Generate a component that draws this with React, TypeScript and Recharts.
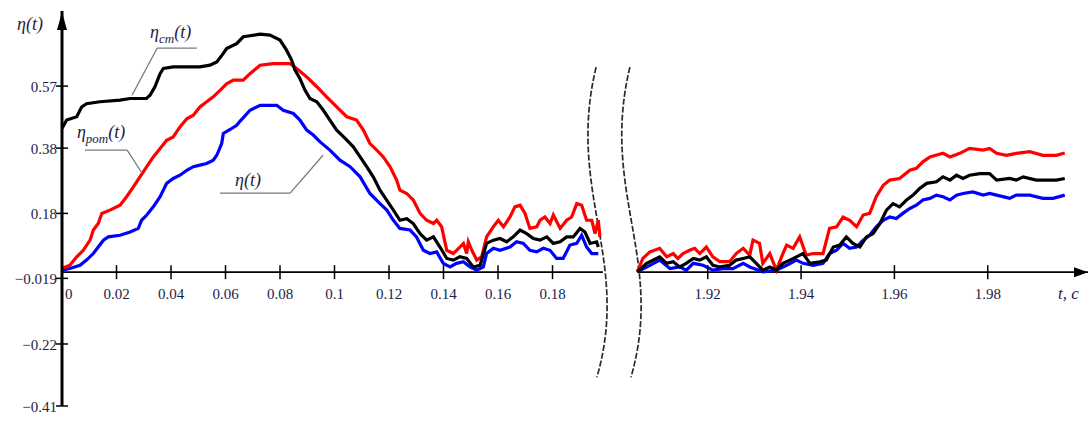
import { LineChart, Line, XAxis, YAxis, ReferenceLine, ReferenceDot } from 'recharts'

// values, as [t, value]
const etaStLeft: [number, number][] = [
  [0, 0.44], [0.0017, 0.466], [0.0054, 0.476], [0.0072, 0.506], [0.009, 0.516], [0.0139, 0.522],
  [0.0213, 0.527], [0.025, 0.532], [0.031, 0.532], [0.0323, 0.542], [0.0341, 0.568], [0.036, 0.608],
  [0.0372, 0.624], [0.0408, 0.629], [0.047, 0.629], [0.0506, 0.629], [0.0543, 0.634], [0.0568, 0.644],
  [0.0592, 0.67], [0.0604, 0.685], [0.0641, 0.7], [0.0665, 0.721], [0.0727, 0.729], [0.0763, 0.726],
  [0.08, 0.711], [0.0824, 0.68], [0.0843, 0.649], [0.0855, 0.619], [0.0873, 0.593], [0.0892, 0.557],
  [0.091, 0.532], [0.0935, 0.522], [0.0959, 0.496], [0.0983, 0.466], [0.1008, 0.435], [0.1039, 0.41],
  [0.1069, 0.384], [0.1094, 0.353], [0.1118, 0.323], [0.1142, 0.292], [0.1167, 0.251], [0.1192, 0.22],
  [0.1216, 0.19], [0.124, 0.159], [0.1265, 0.164], [0.1289, 0.149], [0.1314, 0.118], [0.1338, 0.098],
  [0.1363, 0.108], [0.1387, 0.077], [0.1412, 0.042], [0.1436, 0.037], [0.146, 0.047], [0.1485, 0.042],
  [0.1509, 0.016], [0.1534, 0.021], [0.1558, 0.088], [0.1583, 0.098], [0.1607, 0.103], [0.1632, 0.093],
  [0.1656, 0.108], [0.1681, 0.129], [0.1705, 0.118], [0.173, 0.103], [0.1754, 0.098], [0.1779, 0.108],
  [0.1803, 0.088], [0.1828, 0.093], [0.1852, 0.108], [0.1876, 0.108], [0.1901, 0.134], [0.1919, 0.123],
  [0.1938, 0.088], [0.1962, 0.093], [0.1968, 0.077],
]
const etaStRight: [number, number][] = [
  [1.9049, 0.001], [1.9069, 0.027], [1.9097, 0.047], [1.9112, 0.027], [1.9126, 0.032], [1.914, 0.016],
  [1.9154, 0.027], [1.9169, 0.042], [1.9183, 0.037], [1.9197, 0.047], [1.9211, 0.021], [1.9226, 0.016],
  [1.9247, 0.021], [1.9261, 0.037], [1.9276, 0.042], [1.929, 0.047], [1.9304, 0.027], [1.9318, 0.006],
  [1.9333, 0.016], [1.9347, 0.006], [1.9361, 0.027], [1.9376, 0.037], [1.939, 0.047], [1.9404, 0.057],
  [1.9419, 0.027], [1.944, 0.032], [1.9454, 0.037], [1.9469, 0.077], [1.9483, 0.083], [1.9497, 0.108],
  [1.9511, 0.088], [1.9526, 0.077], [1.954, 0.108], [1.9554, 0.118], [1.9569, 0.149], [1.9583, 0.19],
  [1.9597, 0.21], [1.9611, 0.2], [1.9626, 0.221], [1.964, 0.236], [1.9654, 0.256], [1.9669, 0.272],
  [1.969, 0.277], [1.9704, 0.292], [1.9719, 0.282], [1.9733, 0.297], [1.9747, 0.287], [1.9761, 0.297],
  [1.9783, 0.302], [1.9804, 0.302], [1.9819, 0.282], [1.9847, 0.287], [1.9861, 0.282], [1.9876, 0.292],
  [1.9904, 0.282], [1.9933, 0.282], [1.9947, 0.282], [1.9965, 0.287],
]

const etaRotLeft: [number, number][] = [
  [0, 0.011], [0.0029, 0.021], [0.0054, 0.047], [0.0078, 0.067], [0.0103, 0.098], [0.0115, 0.129],
  [0.0133, 0.149], [0.0146, 0.18], [0.0176, 0.19], [0.0213, 0.205], [0.0237, 0.231], [0.0262, 0.261],
  [0.0286, 0.292], [0.0311, 0.323], [0.0335, 0.353], [0.036, 0.379], [0.0384, 0.404], [0.0408, 0.414],
  [0.0433, 0.445], [0.0458, 0.47], [0.0482, 0.481], [0.0506, 0.506], [0.0531, 0.522], [0.0555, 0.537],
  [0.058, 0.557], [0.0604, 0.577], [0.0629, 0.588], [0.0665, 0.588], [0.069, 0.608], [0.0727, 0.634],
  [0.0775, 0.639], [0.0837, 0.639], [0.0861, 0.624], [0.0898, 0.598], [0.0935, 0.568], [0.0971, 0.537],
  [0.0996, 0.516], [0.102, 0.496], [0.1045, 0.476], [0.1081, 0.466], [0.1106, 0.435], [0.113, 0.394],
  [0.1155, 0.374], [0.1179, 0.353], [0.1204, 0.323], [0.1228, 0.282], [0.124, 0.251], [0.1265, 0.241],
  [0.1289, 0.221], [0.1314, 0.18], [0.1338, 0.159], [0.1363, 0.149], [0.1375, 0.159], [0.1393, 0.139],
  [0.1412, 0.067], [0.1436, 0.057], [0.146, 0.077], [0.1473, 0.088], [0.1485, 0.057], [0.1491, 0.093],
  [0.1504, 0.067], [0.1522, 0.037], [0.154, 0.047], [0.1558, 0.108], [0.1583, 0.139], [0.1601, 0.159],
  [0.162, 0.139], [0.1644, 0.169], [0.1662, 0.2], [0.1681, 0.205], [0.1699, 0.18], [0.1717, 0.134],
  [0.1742, 0.139], [0.1754, 0.159], [0.1772, 0.169], [0.1791, 0.149], [0.1803, 0.175], [0.1828, 0.134],
  [0.1852, 0.159], [0.187, 0.169], [0.1889, 0.21], [0.1907, 0.205], [0.1925, 0.159], [0.1944, 0.159],
  [0.1956, 0.118], [0.1968, 0.159], [0.1974, 0.108],
]
const etaRotRight: [number, number][] = [
  [1.9049, 0.001], [1.9061, 0.042], [1.9076, 0.062], [1.9097, 0.073], [1.9112, 0.047], [1.9126, 0.057],
  [1.9136, 0.042], [1.9147, 0.057], [1.9161, 0.067], [1.9172, 0.073], [1.9183, 0.057], [1.9197, 0.077],
  [1.9211, 0.047], [1.9226, 0.032], [1.9247, 0.032], [1.9261, 0.057], [1.9276, 0.073], [1.929, 0.052],
  [1.9297, 0.098], [1.9311, 0.088], [1.9318, 0.027], [1.9333, 0.057], [1.9347, 0.006], [1.9361, 0.057],
  [1.9369, 0.083], [1.9383, 0.073], [1.9397, 0.108], [1.9411, 0.052], [1.9426, 0.057], [1.9447, 0.057],
  [1.9461, 0.134], [1.9476, 0.139], [1.949, 0.169], [1.9504, 0.159], [1.9519, 0.139], [1.9533, 0.175],
  [1.9547, 0.18], [1.9561, 0.231], [1.9576, 0.266], [1.959, 0.282], [1.9611, 0.287], [1.9633, 0.312],
  [1.9647, 0.318], [1.9661, 0.338], [1.9676, 0.353], [1.9704, 0.364], [1.9719, 0.353], [1.974, 0.364],
  [1.9761, 0.379], [1.979, 0.374], [1.9804, 0.379], [1.9819, 0.364], [1.984, 0.358], [1.9861, 0.364],
  [1.989, 0.369], [1.9918, 0.358], [1.9947, 0.358], [1.9965, 0.365],
]

const etaLeft: [number, number][] = [
  [0, 0.006], [0.0029, 0.011], [0.0066, 0.021], [0.009, 0.037], [0.0115, 0.057], [0.0133, 0.077],
  [0.0152, 0.098], [0.017, 0.108], [0.0213, 0.113], [0.025, 0.123], [0.028, 0.134], [0.0292, 0.159],
  [0.0311, 0.175], [0.0335, 0.2], [0.036, 0.231], [0.0384, 0.272], [0.0408, 0.287], [0.0433, 0.297],
  [0.0458, 0.312], [0.0482, 0.323], [0.0506, 0.328], [0.0531, 0.333], [0.0555, 0.343], [0.0568, 0.358],
  [0.0586, 0.394], [0.0592, 0.425], [0.0617, 0.437], [0.0641, 0.45], [0.0653, 0.462], [0.069, 0.496],
  [0.0727, 0.511], [0.0788, 0.511], [0.0812, 0.496], [0.0849, 0.486], [0.0873, 0.466], [0.0898, 0.435],
  [0.0922, 0.42], [0.0947, 0.399], [0.0983, 0.374], [0.102, 0.343], [0.1057, 0.323], [0.1094, 0.292],
  [0.113, 0.241], [0.1167, 0.21], [0.1192, 0.19], [0.1216, 0.159], [0.124, 0.134], [0.1277, 0.129],
  [0.1301, 0.108], [0.1326, 0.067], [0.135, 0.057], [0.1375, 0.062], [0.1399, 0.027], [0.1424, 0.016],
  [0.1448, 0.027], [0.1473, 0.032], [0.1497, 0.016], [0.1522, 0.006], [0.1546, 0.016], [0.1558, 0.057],
  [0.1583, 0.073], [0.1607, 0.067], [0.1644, 0.077], [0.1668, 0.093], [0.1693, 0.088], [0.1717, 0.067],
  [0.1742, 0.062], [0.1766, 0.073], [0.1791, 0.067], [0.1815, 0.042], [0.1839, 0.042], [0.1864, 0.083],
  [0.1889, 0.088], [0.1907, 0.113], [0.1925, 0.077], [0.1944, 0.057], [0.1968, 0.057],
]
const etaRight: [number, number][] = [
  [1.9049, 0.001], [1.9076, 0.021], [1.9097, 0.037], [1.9119, 0.011], [1.914, 0.016], [1.9154, 0.006],
  [1.9169, 0.027], [1.919, 0.021], [1.9211, 0.006], [1.9233, 0.011], [1.9254, 0.011], [1.9276, 0.027],
  [1.929, 0.016], [1.9318, 0.001], [1.9347, 0.006], [1.9369, 0.021], [1.939, 0.037], [1.9404, 0.027],
  [1.9426, 0.021], [1.9447, 0.027], [1.9461, 0.057], [1.9476, 0.067], [1.949, 0.088], [1.9504, 0.073],
  [1.9519, 0.077], [1.9533, 0.098], [1.9547, 0.113], [1.9561, 0.139], [1.9576, 0.159], [1.959, 0.169],
  [1.9604, 0.164], [1.9618, 0.18], [1.9633, 0.195], [1.9647, 0.205], [1.9661, 0.221], [1.9676, 0.226],
  [1.969, 0.236], [1.9704, 0.231], [1.9719, 0.221], [1.9733, 0.236], [1.9747, 0.241], [1.9768, 0.246],
  [1.979, 0.236], [1.9804, 0.241], [1.9819, 0.236], [1.9847, 0.226], [1.9861, 0.236], [1.989, 0.236],
  [1.9918, 0.226], [1.994, 0.226], [1.9965, 0.236],
]

const xTicksLeft = [0, 0.02, 0.04, 0.06, 0.08, 0.1, 0.12, 0.14, 0.16, 0.18]
const xTickLabelsLeft = ['0', '0.02', '0.04', '0.06', '0.08', '0.1', '0.12', '0.14', '0.16', '0.18']
const xTicksRight = [1.92, 1.94, 1.96, 1.98]
const xTickLabelsRight = ['1.92', '1.94', '1.96', '1.98']
const yTicks = [0.57, 0.38, 0.18, -0.019, -0.22, -0.41]
const yTickLabels = ['0.57', '0.38', '0.18', '-0.019', '-0.22', '-0.41']

// broken time axis: the tail (t > 1.9) is drawn stretched after a gap
const LEFT_END = 0.1985
const RIGHT_START_U = 0.2111
const RIGHT_START_T = 1.9049
const RIGHT_SCALE = 1.7126
const U_MAX = 0.3765
const GAP_U = 0.205

const toU = (t: number) => (t < 1 ? t : RIGHT_START_U + (t - RIGHT_START_T) * RIGHT_SCALE)

const buildRows = (left: [number, number][], right: [number, number][]) => [
  ...left.map(([t, v]) => ({ u: toU(t), v })),
  { u: GAP_U, v: null },
  ...right.map(([t, v]) => ({ u: toU(t), v })),
]

const FONT = "'Liberation Serif', 'DejaVu Serif', serif"
const TEXT = '#1d1d47'
const tickText = { fontFamily: FONT, fontSize: 15 }
const italicText = { fontFamily: FONT, fontStyle: 'italic' as const, fontSize: 18 }

function YTick(props: any) {
  const { x, y, payload } = props
  const i = yTicks.indexOf(payload.value)
  const label = (yTickLabels[i] ?? String(payload.value)).replace('-', '\u2212')
  return (
    <g>
      <line x1={x - 6} x2={x + 6} y1={y} y2={y} stroke="#000" strokeWidth={1.5} />
      <text x={x - 5} y={y + 6} textAnchor="end" style={tickText} fill={TEXT}>
        {label}
      </text>
    </g>
  )
}

function xTickShape(label: string, first: boolean) {
  return (p: any) => (
    <g>
      <line x1={p.cx} x2={p.cx} y1={p.cy - 7} y2={p.cy + 7} stroke="#000" strokeWidth={1.5} />
      <text
        x={first ? p.cx + 3 : p.cx}
        y={p.cy + 27}
        textAnchor={first ? 'start' : 'middle'}
        style={tickText}
        fill={TEXT}
      >
        {label}
      </text>
    </g>
  )
}

function BreakCurve(p: any) {
  const { x1, y1, x2, y2 } = p
  const h = y2 - y1
  const d = `M${x1},${y1} C${x1 - 30},${y1 + 0.4 * h} ${x2 + 34},${y1 + 0.62 * h} ${x2},${y2}`
  return <path d={d} fill="none" stroke="#2a2a2a" strokeWidth={1.7} strokeDasharray="6 2" />
}

function Label({ cx, cy, sub, dx, dy }: any) {
  return (
    <text x={cx + dx} y={cy + dy} style={italicText} fill={TEXT}>
      <tspan>η</tspan>
      {sub && (
        <tspan dy={5} fontSize={13}>
          {sub}
        </tspan>
      )}
      <tspan dy={sub ? -5 : 0}>(t)</tspan>
    </text>
  )
}

const leader = { stroke: '#7a7a7a', strokeWidth: 1.3 }

export default function App() {
  const stRows = buildRows(etaStLeft, etaStRight)
  const rotRows = buildRows(etaRotLeft, etaRotRight)
  const etaRows = buildRows(etaLeft, etaRight)

  return (
    <div style={{ position: 'absolute', left: 0, top: 0, background: '#fff' }}>
      <LineChart width={1092} height={423} margin={{ top: 11, right: 4, bottom: 17, left: 0 }}>
        <XAxis type="number" dataKey="u" domain={[0, U_MAX]} hide allowDataOverflow />
        <YAxis
          type="number"
          domain={[-0.41, 0.8]}
          ticks={yTicks}
          interval={0}
          width={62}
          allowDataOverflow
          axisLine={{ stroke: '#000', strokeWidth: 3 }}
          tickLine={false}
          tickSize={0}
          tickMargin={0}
          tick={<YTick />}
        />

        {/* x axis drawn at zero, in two pieces */}
        <ReferenceLine segment={[{ x: 0, y: 0 }, { x: LEFT_END, y: 0 }]} stroke="#000" strokeWidth={1.8} />
        <ReferenceLine segment={[{ x: RIGHT_START_U, y: 0 }, { x: U_MAX, y: 0 }]} stroke="#000" strokeWidth={1.8} />
        {xTicksLeft.map((t, i) => (
          <ReferenceDot key={'l' + t} x={toU(t)} y={0} r={0} shape={xTickShape(xTickLabelsLeft[i], i === 0)} />
        ))}
        {xTicksRight.map((t, i) => (
          <ReferenceDot key={'r' + t} x={toU(t)} y={0} r={0} shape={xTickShape(xTickLabelsRight[i], false)} />
        ))}
        <ReferenceDot
          x={U_MAX}
          y={0}
          r={0}
          shape={(p: any) => (
            <g>
              <polygon points={`${p.cx},${p.cy} ${p.cx - 14},${p.cy - 5} ${p.cx - 14},${p.cy + 5}`} fill="#000" />
              <text x={p.cx - 30} y={p.cy + 27} style={{ ...italicText, fontSize: 17 }} fill={TEXT}>
                t, с
              </text>
            </g>
          )}
        />
        <ReferenceDot
          x={0}
          y={0.8}
          r={0}
          shape={(p: any) => (
            <g>
              <polygon points={`${p.cx},${p.cy + 1} ${p.cx - 5},${p.cy + 19} ${p.cx + 5},${p.cy + 19}`} fill="#000" />
              <text x={p.cx - 45} y={p.cy + 19} style={italicText} fill={TEXT}>
                η(t)
              </text>
            </g>
          )}
        />

        {/* axis break marks */}
        <ReferenceLine segment={[{ x: 0.196, y: 0.628 }, { x: 0.1963, y: -0.3216 }]} shape={<BreakCurve />} />
        <ReferenceLine segment={[{ x: 0.2084, y: 0.628 }, { x: 0.2088, y: -0.3216 }]} shape={<BreakCurve />} />

        <Line data={etaRows} dataKey="v" type="linear" stroke="#0000ff" strokeWidth={3.2} dot={false} isAnimationActive={false} />
        <Line data={rotRows} dataKey="v" type="linear" stroke="#ff0000" strokeWidth={3.2} dot={false} isAnimationActive={false} />
        <Line data={stRows} dataKey="v" type="linear" stroke="#000000" strokeWidth={3.2} dot={false} isAnimationActive={false} />

        {/* callouts */}
        <ReferenceLine segment={[{ x: 0.0257, y: 0.542 }, { x: 0.0349, y: 0.686 }]} {...leader} />
        <ReferenceLine segment={[{ x: 0.0349, y: 0.686 }, { x: 0.0495, y: 0.686 }]} {...leader} />
        <ReferenceDot x={0.0349} y={0.686} r={0} shape={(p: any) => <Label {...p} sub="ст" dx={-7} dy={-10} />} />

        <ReferenceLine segment={[{ x: 0.0084, y: 0.374 }, { x: 0.0239, y: 0.374 }]} {...leader} />
        <ReferenceLine segment={[{ x: 0.0239, y: 0.374 }, { x: 0.0294, y: 0.303 }]} {...leader} />
        <ReferenceDot x={0.0084} y={0.374} r={0} shape={(p: any) => <Label {...p} sub="рот" dx={-8} dy={-12} />} />

        <ReferenceLine segment={[{ x: 0.058, y: 0.242 }, { x: 0.0837, y: 0.242 }]} {...leader} />
        <ReferenceLine segment={[{ x: 0.0837, y: 0.242 }, { x: 0.0958, y: 0.358 }]} {...leader} />
        <ReferenceDot x={0.058} y={0.242} r={0} shape={(p: any) => <Label {...p} dx={15} dy={-7} />} />
      </LineChart>
    </div>
  )
}
